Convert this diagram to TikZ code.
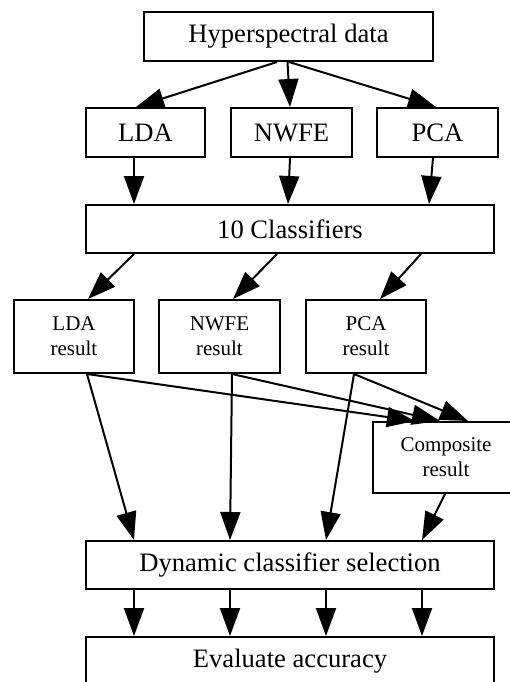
\documentclass[tikz,border=0pt]{standalone}
\usepackage{fontspec}
\setmainfont{Liberation Serif}
\usetikzlibrary{arrows.meta,positioning}
\newcommand{\bigtxt}{\fontsize{26.6}{30}\selectfont}
\newcommand{\smalltxt}{\fontsize{21}{25}\selectfont}

\begin{document}
\begin{tikzpicture}[x=1pt, y=-1pt,
  box/.style={draw, line width=2pt, inner sep=0pt, minimum height=49pt, font=\bigtxt},
  resbox/.style={draw, line width=2pt, inner sep=0pt, minimum height=73pt, align=center, font=\smalltxt},
  arr/.style={-{Triangle[length=28pt,width=20pt]}, line width=2pt}]
\useasboundingbox (0,0) rectangle (509,682);
\node[box, minimum width=289pt]     (hyper)   at (288.5,36.5) {Hyperspectral data};
\node[box, minimum width=119pt]     (lda)     at (145.5,132.5) {LDA};
\node[box, minimum width=121pt, right=24pt of lda]  (nwfe) {NWFE};
\node[box, minimum width=121pt, right=23pt of nwfe] (pca)  {PCA};
\node[box, minimum width=408pt, minimum height=48pt] (clf) at (290,229) {10 Classifiers};
\node[resbox, minimum width=120pt]  (ldares)  at (74,336.5) {LDA\\result};
\node[resbox, minimum width=121pt, right=23pt of ldares]  (nwferes) {NWFE\\result};
\node[resbox, minimum width=120pt, right=24pt of nwferes] (pcares)  {PCA\\result};
\node[resbox, minimum width=146pt, minimum height=71pt] (comp) at (446,457.5) {Composite\\result};
\node[box, minimum width=408pt, minimum height=48pt] (dcs)  at (290,565) {Dynamic classifier selection};
\node[box, minimum width=408pt, minimum height=48pt] (eval) at (290,661) {Evaluate accuracy};
\path[arr]
    ([xshift=-11.5pt]hyper.south) edge ([xshift=-9.5pt]lda.north)
    ([xshift=-1pt]hyper.south)    edge ([xshift=-1.5pt]nwfe.north)
    ([xshift=0.5pt]hyper.south)   edge ([xshift=-1.5pt]pca.north)
    ([xshift=-11.5pt]lda.south)   edge ([xshift=-156pt]clf.north)
    ([xshift=-1.5pt]nwfe.south)   edge ([xshift=-2pt]clf.north)
    ([xshift=-4.5pt]pca.south)    edge ([xshift=139pt]clf.north)
    ([xshift=-156pt]clf.south)    edge ([xshift=14pt]ldares.north)
    ([xshift=-13pt]clf.south)     edge ([xshift=13.5pt]nwferes.north)
    ([xshift=131pt]clf.south)     edge ([xshift=14pt]pcares.north)
    ([xshift=13pt]ldares.south)   edge ([xshift=-156pt]dcs.north)
    ([xshift=13pt]ldares.south)   edge ([xshift=-31pt]comp.north)
    ([xshift=12.5pt]nwferes.south) edge ([xshift=-60pt]dcs.north)
    ([xshift=12.5pt]nwferes.south) edge ([xshift=-6pt]comp.north)
    ([xshift=-12pt]pcares.south)  edge ([xshift=36pt]dcs.north)
    ([xshift=-12pt]pcares.south)  edge ([xshift=22pt]comp.north)
    ([xshift=-1pt]comp.south)     edge ([xshift=132pt]dcs.north)
; %-path-%
\foreach \dx in {-156,-60,36,132}
  \draw[arr] ([xshift=\dx pt]dcs.south) -- ([xshift=\dx pt]eval.north);
\end{tikzpicture}
\end{document}
